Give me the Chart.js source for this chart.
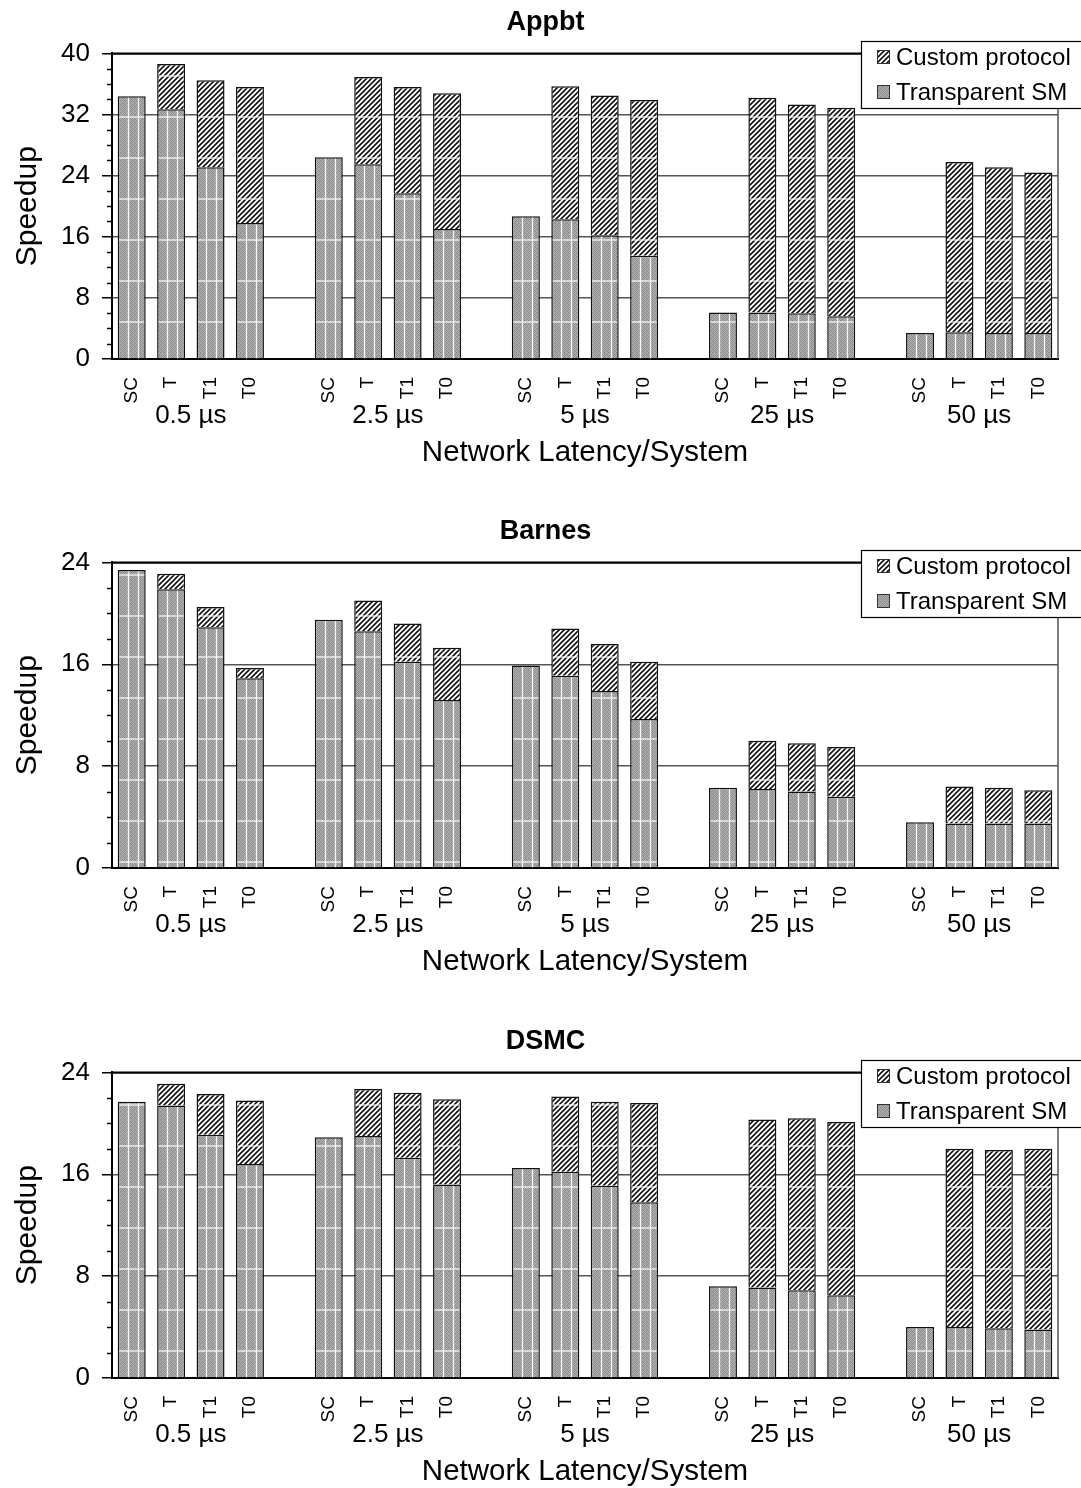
<!DOCTYPE html>
<html><head><meta charset="utf-8">
<script src="https://cdn.jsdelivr.net/npm/chart.js@4.4.1/dist/chart.umd.min.js"></script>
<style>
html,body{margin:0;padding:0;background:#fff;overflow:hidden;width:1081px;height:1488px;}
canvas{position:absolute;left:0;display:block;}
</style></head><body>
<canvas id="c1" width="1081" height="509" style="top:0px"></canvas>
<canvas id="c2" width="1081" height="509" style="top:509px"></canvas>
<canvas id="c3" width="1081" height="509" style="top:1019px"></canvas>
<script>
// ---- data ----
const systems = ['SC', 'T', 'T1', 'T0'];
const latencies = ['0.5 µs', '2.5 µs', '5 µs', '25 µs', '50 µs'];
const seriesNames = ['Custom protocol', 'Transparent SM'];
const xTitle = 'Network Latency/System';
const yTitle = 'Speedup';

const appbtTransparent = [34.4, 32.7, 25.1, 17.8, 26.4, 25.5, 21.7, 17.0, 18.7, 18.3, 16.2, 13.5, 6.1, 6.1, 6.0, 5.6, 3.4, 3.5, 3.4, 3.4];
const appbtCustom      = [null, 5.9, 11.4, 17.8, null, 11.4, 13.9, 17.8, null, 17.4, 18.3, 20.4, null, 28.1, 27.3, 27.3, null, 22.3, 21.7, 21.0];
const appbtTicks = [0, 8, 16, 24, 32, 40];

const barnesTransparent = [23.4, 21.9, 18.9, 14.9, 19.5, 18.6, 16.2, 13.2, 15.9, 15.1, 13.9, 11.7, 6.3, 6.2, 6.0, 5.6, 3.6, 3.5, 3.5, 3.5];
const barnesCustom      = [null, 1.2, 1.6, 0.8, null, 2.4, 3.0, 4.1, null, 3.7, 3.7, 4.5, null, 3.8, 3.8, 3.9, null, 2.9, 2.8, 2.6];
const barnesTicks = [0, 8, 16, 24];

const dsmcTransparent = [21.7, 21.4, 19.1, 16.8, 18.9, 19.0, 17.3, 15.2, 16.5, 16.2, 15.1, 13.8, 7.2, 7.1, 6.9, 6.5, 4.0, 4.0, 3.9, 3.8];
const dsmcCustom      = [null, 1.7, 3.2, 5.0, null, 3.7, 5.1, 6.7, null, 5.9, 6.6, 7.8, null, 13.2, 13.5, 13.6, null, 14.0, 14.0, 14.2];
const dsmcTicks = [0, 8, 16, 24];

// ---- helpers ----
const FONT = '"Liberation Sans", Arial, Helvetica, sans-serif';
Chart.defaults.font.family = FONT;
Chart.defaults.color = '#000';

// category slots with an empty slot between latency groups
const xLabels = [];
latencies.forEach((l, g) => {
  systems.forEach(s => xLabels.push(s));
  if (g < latencies.length - 1) xLabels.push('');
});
function expand(arr) {
  const out = [];
  latencies.forEach((l, g) => {
    for (let i = 0; i < systems.length; i++) out.push(arr[g * systems.length + i]);
    if (g < latencies.length - 1) out.push(null);
  });
  return out;
}

function hatchPattern(ctx) {
  const s = 5;
  const c = document.createElement('canvas'); c.width = s; c.height = s;
  const g = c.getContext('2d');
  g.fillStyle = '#fff'; g.fillRect(0, 0, s, s);
  g.strokeStyle = '#111'; g.lineWidth = 1.6;
  g.beginPath();
  g.moveTo(-1, s + 1); g.lineTo(s + 1, -1);
  g.moveTo(-2, 2); g.lineTo(2, -2);
  g.moveTo(s - 2, s + 2); g.lineTo(s + 2, s - 2);
  g.stroke();
  return ctx.createPattern(c, 'repeat');
}
function greyPattern(ctx) {
  const px = [
    [0x84, 0xaa, 0x98, 0xb2],
    [0xa8, 0x90, 0xba, 0x92],
    [0x98, 0xb6, 0x84, 0xaa],
    [0xb2, 0x92, 0xa8, 0x90]];
  const c = document.createElement('canvas'); c.width = 4; c.height = 4;
  const g = c.getContext('2d');
  const img = g.createImageData(4, 4);
  for (let y = 0; y < 4; y++) for (let x = 0; x < 4; x++) {
    const i = (y * 4 + x) * 4; const v = px[y][x];
    img.data[i] = v; img.data[i + 1] = v; img.data[i + 2] = v; img.data[i + 3] = 255;
  }
  g.putImageData(img, 0, 0);
  return ctx.createPattern(c, 'repeat');
}

// ---- plugins ----
const framePlugin = {
  id: 'frame',
  beforeDatasetsDraw(chart) {
    const a = chart.chartArea, c = chart.ctx;
    c.save();
    c.strokeStyle = '#555'; c.lineWidth = 1.5;
    c.beginPath(); c.moveTo(a.right, a.top); c.lineTo(a.right, a.bottom); c.stroke();
    c.strokeStyle = '#000'; c.lineWidth = 2;
    c.beginPath(); c.moveTo(a.left, a.top); c.lineTo(a.right, a.top); c.stroke();
    c.restore();
  }
};
const minorTickPlugin = {
  id: 'minorTicks',
  afterDraw(chart) {
    const ys = chart.scales.y, c = chart.ctx, a = chart.chartArea;
    c.save(); c.strokeStyle = '#000'; c.lineWidth = 1.5;
    for (let v = ys.min; v <= ys.max; v += 2) {
      if (v % 8 === 0) continue;
      const py = Math.round(ys.getPixelForValue(v)) + 0.5;
      c.beginPath(); c.moveTo(a.left - 5, py); c.lineTo(a.left, py); c.stroke();
    }
    c.restore();
  }
};
const texturePlugin = {
  id: 'texture',
  afterDatasetsDraw(chart, args, opts) {
    const c = chart.ctx;
    const period = 41, off = opts.offset || 0;
    c.save(); c.strokeStyle = 'rgba(255,255,255,0.9)'; c.lineWidth = 1.3;
    chart.data.datasets.forEach((ds, di) => {
      const meta = chart.getDatasetMeta(di);
      meta.data.forEach((el, i) => {
        if (ds.data[i] == null) return;
        const p = el.getProps(['x', 'y', 'base', 'width'], true);
        const left = p.x - p.width / 2, right = p.x + p.width / 2;
        const top = Math.min(p.y, p.base), bot = Math.max(p.y, p.base);
        for (let yy = off; yy < bot; yy += period) {
          if (yy > top + 3 && yy < bot - 2) {
            c.beginPath(); c.moveTo(left + 1.5, yy); c.lineTo(right - 1.5, yy); c.stroke();
          }
        }
        if (di === 0) {
          [0.355, 0.71].forEach(f => {
            const xx = Math.round(left + p.width * f) + 0.5;
            c.beginPath(); c.moveTo(xx, top + 1.5); c.lineTo(xx, bot); c.stroke();
          });
        }
      });
    });
    c.restore();
  }
};
const groupLabelPlugin = {
  id: 'groupLabels',
  afterDraw(chart) {
    const xs = chart.scales.x, c = chart.ctx, a = chart.chartArea;
    c.save();
    c.font = '26px ' + FONT; c.fillStyle = '#000';
    c.textAlign = 'center'; c.textBaseline = 'middle';
    latencies.forEach((l, g) => {
      const base = g * (systems.length + 1);
      const x = (xs.getPixelForValue(base + 1) + xs.getPixelForValue(base + 2)) / 2;
      c.fillText(l, x, a.bottom + 57);
    });
    c.restore();
  }
};
const boxLegendPlugin = {
  id: 'boxLegend',
  afterDraw(chart) {
    const c = chart.ctx;
    const w = 220, h = 67, x = chart.width - w, y = 41;
    c.save();
    c.fillStyle = '#fff'; c.fillRect(x, y, w, h);
    c.strokeStyle = '#000'; c.lineWidth = 1.2;
    c.strokeRect(x + 0.5, y + 0.5, w + 2, h);
    const items = [chart.data.datasets[1], chart.data.datasets[0]];
    items.forEach((ds, i) => {
      const cy = y + 16 + i * 35;
      c.fillStyle = ds.backgroundColor;
      c.fillRect(x + 16, cy - 7, 13, 14);
      c.strokeStyle = '#333'; c.lineWidth = 1;
      c.strokeRect(x + 16.5, cy - 6.5, 12, 13);
      c.fillStyle = '#000'; c.font = '24px ' + FONT;
      c.textAlign = 'left'; c.textBaseline = 'middle';
      c.fillText(ds.label, x + 35, cy + 1);
    });
    c.restore();
  }
};

function makeChart(id, title, trans, custom, ticks, whiteOffset) {
  const canvas = document.getElementById(id);
  const ctx = canvas.getContext('2d');
  const yMax = ticks[ticks.length - 1];
  return new Chart(ctx, {
    type: 'bar',
    data: {
      labels: xLabels,
      datasets: [
        { label: seriesNames[1], data: expand(trans), backgroundColor: greyPattern(ctx), borderColor: '#111', borderWidth: 1.5 },
        { label: seriesNames[0], data: expand(custom), backgroundColor: hatchPattern(ctx), borderColor: '#111', borderWidth: 1.5 }
      ]
    },
    options: {
      responsive: false,
      animation: false,
      layout: { padding: { left: 10, right: 0, top: 0, bottom: 0 } },
      datasets: { bar: { categoryPercentage: 1, barPercentage: 0.71 } },
      plugins: {
        legend: { display: false },
        tooltip: { enabled: false },
        title: { display: true, text: title, color: '#000', font: { size: 27, weight: 'bold' }, padding: { top: 6, bottom: 15 } },
        texture: { offset: whiteOffset }
      },
      scales: {
        x: {
          stacked: true,
          grid: { display: false, drawTicks: false },
          border: { display: true, color: '#000', width: 2 },
          ticks: { autoSkip: false, maxRotation: 90, minRotation: 90, padding: 18, color: '#000', font: { size: 19 } },
          title: { display: true, text: xTitle, color: '#000', font: { size: 29.5 }, padding: { top: 0, bottom: 38 } },
          afterFit(s) { s.height = 150; }
        },
        y: {
          stacked: true, min: 0, max: yMax,
          afterBuildTicks(s) { const t = []; for (let v = 0; v <= yMax; v += 2) t.push({ value: v }); s.ticks = t; },
          ticks: { autoSkip: false, padding: 12, color: '#000', font: { size: 26 },
            callback: v => ticks.includes(v) ? String(v) : '' },
          grid: {
            color: c => (c.tick && ticks.includes(c.tick.value) && c.tick.value > 0) ? (c.tick.value === yMax ? '#000' : '#555') : 'rgba(0,0,0,0)',
            lineWidth: 1.5, tickLength: 10, drawTicks: true,
            tickColor: c => (c.tick && ticks.includes(c.tick.value)) ? '#000' : 'rgba(0,0,0,0)',
            tickWidth: 1.5
          },
          border: { display: true, color: '#000', width: 2 },
          title: { display: true, text: yTitle, color: '#000', font: { size: 30 }, padding: { top: 0, bottom: 0 } },
          afterFit(s) { s.width = 102; }
        },
        yr: {
          position: 'right', min: 0, max: yMax,
          grid: { display: false, drawTicks: false },
          border: { display: false },
          ticks: { display: false },
          afterFit(s) { s.width = 23; }
        }
      }
    },
    plugins: [framePlugin, texturePlugin, minorTickPlugin, groupLabelPlugin, boxLegendPlugin]
  });
}

makeChart('c1', 'Appbt', appbtTransparent, appbtCustom, appbtTicks, 35);
makeChart('c2', 'Barnes', barnesTransparent, barnesCustom, barnesTicks, 25);
makeChart('c3', 'DSMC', dsmcTransparent, dsmcCustom, dsmcTicks, 4);
</script>
</body></html>
